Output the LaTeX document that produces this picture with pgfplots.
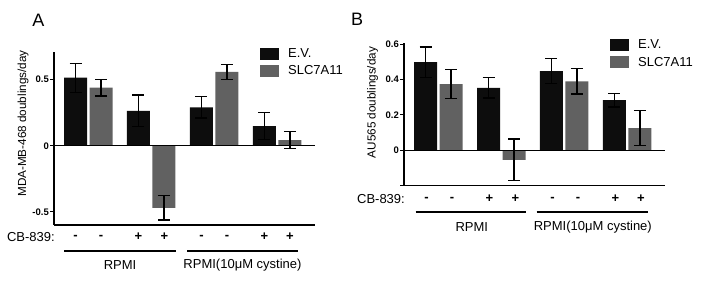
\documentclass[border=0pt]{standalone}
\usepackage{fontspec}
\setmainfont{Liberation Sans}
\usepackage{pgfplots}
\pgfplotsset{compat=1.18}
\definecolor{ev}{HTML}{0D0D0D}
\definecolor{slc}{HTML}{616161}
\pgfplotsset{
  panel/.style={
    scale only axis,
    anchor=south west,
    width=261pt,
    xmin=0.456, xmax=4.6,
    axis x line=bottom, axis y line=left,
    axis line style={-, line width=1.3pt, black},
    xtick=\empty,
    ytick style={line width=1.1pt, black},
    major tick length=4pt,
    tick align=outside,
    /pgf/number format/assume math mode=true,
    yticklabel style={font=\fontsize{9.5}{11}\selectfont\bfseries, inner sep=1pt},
    ybar, bar width=23pt,
    clip=false,
    error bars/error bar style={line width=1.2pt, black},
    error bars/error mark options={rotate=90, mark size=6pt, line width=1.2pt, black},
    legend style={draw=none, fill=none, anchor=north west, inner sep=0pt,
      row sep=5pt, column sep=0pt,
      font=\fontsize{13}{14}\selectfont,
      nodes={inner sep=0pt, anchor=west}},
    legend cell align=left,
  },
  sw/.style={legend image code/.code={\fill[##1,draw=none] (0pt,-6pt) rectangle (19pt,6pt); \path (28pt,0pt);}},
}
\begin{document}
\begin{tikzpicture}[x=1pt,y=1pt]
\useasboundingbox (0,0) rectangle (701,304);

% ---------------- Panel A ----------------
\begin{axis}[panel,
  at={(54pt,79pt)}, height=173pt,
  ymin=-0.6, ymax=0.71,
  ytick={-0.5,0,0.5}, yticklabels={-0.5,0,0.5},
  legend style={at={(0.789,1.023)}},
]
\addplot+[sw, fill=ev, draw=none, bar shift=-12.75pt,
  error bars/.cd, y dir=both, y explicit]
  coordinates {(1,0.515) +- (0,0.110) (2,0.265) +- (0,0.119) (3,0.290) +- (0,0.080) (4,0.149) +- (0,0.100)};
\addlegendentry{E.V.}
\addplot+[sw, fill=slc, draw=none, bar shift=12.75pt,
  error bars/.cd, y dir=both, y explicit]
  coordinates {(1,0.440) +- (0,0.063) (2,-0.470) +- (0,0.092) (3,0.560) +- (0,0.056) (4,0.043) +- (0,0.064)};
\addlegendentry{SLC7A11}
\draw[line width=1.3pt, black] (axis cs:0.456,0) -- (axis cs:4.6,0);
\end{axis}

% ---------------- Panel B ----------------
\begin{axis}[panel,
  at={(404pt,118.3pt)}, height=142.4pt,
  ymin=-0.2, ymax=0.605,
  ytick={-0.2,0,0.2,0.4,0.6}, yticklabels={,0,0.2,0.4,0.6},
  legend style={at={(0.789,1.03)}},
]
\addplot+[sw, fill=ev, draw=none, bar shift=-12.75pt,
  error bars/.cd, y dir=both, y explicit]
  coordinates {(1,0.498) +- (0,0.086) (2,0.353) +- (0,0.057) (3,0.447) +- (0,0.071) (4,0.284) +- (0,0.039)};
\addlegendentry{E.V.}
\addplot+[sw, fill=slc, draw=none, bar shift=12.75pt,
  error bars/.cd, y dir=both, y explicit]
  coordinates {(1,0.374) +- (0,0.082) (2,-0.054) +- (0,0.118) (3,0.390) +- (0,0.072) (4,0.126) +- (0,0.098)};
\addlegendentry{SLC7A11}
\draw[line width=1.3pt, black] (axis cs:0.456,0) -- (axis cs:4.6,0);
\end{axis}

% panel letters
\node[font=\fontsize{18}{19}\selectfont] at (38.5,284) {A};
\node[font=\fontsize{18}{19}\selectfont] at (357,285) {B};

% y labels
\node[rotate=90, font=\fontsize{11.7}{13}\selectfont] at (23,180.5) {MDA-MB-468 doublings/day};
\node[rotate=90, font=\fontsize{11.7}{13}\selectfont] at (372.7,201.5) {AU565 doublings/day};

% CB-839 rows
\begin{scope}[font=\fontsize{13}{14}\selectfont]
\node[anchor=east, inner sep=0pt] at (55,67) {CB-839:};
\foreach \x/\s in {75.5/-,101/-,138.5/+,164.5/+,201.5/-,227/-,264.5/+,290/+}
  \node[font=\fontsize{13}{14}\selectfont\bfseries] at (\x,67) {\s};
\draw[line width=1.3pt] (64,53) -- (176,53);
\draw[line width=1.3pt] (187,53) -- (298,53);
\node at (120,39) {RPMI};
\node at (242.5,39) {RPMI(10μM cystine)};

\node[anchor=east, inner sep=0pt] at (405,105) {CB-839:};
\foreach \x/\s in {426.5/-,452/-,489.5/+,515.5/+,552.5/-,578/-,615.5/+,641/+}
  \node[font=\fontsize{13}{14}\selectfont\bfseries] at (\x,105) {\s};
\draw[line width=1.3pt] (415.7,92) -- (525.7,92);
\draw[line width=1.3pt] (536.7,92) -- (647.7,92);
\node at (471.8,77) {RPMI};
\node at (592.8,77) {RPMI(10μM cystine)};
\end{scope}
\end{tikzpicture}
\end{document}
